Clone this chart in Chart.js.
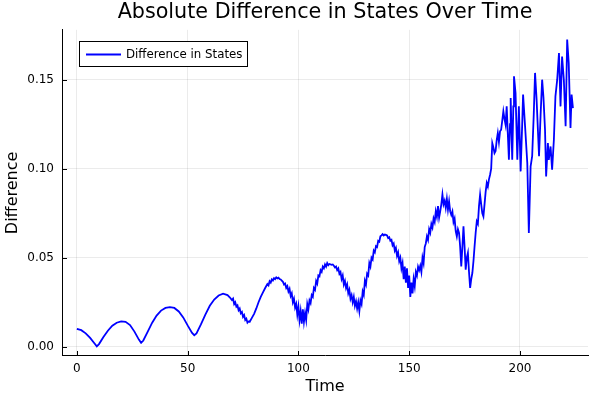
<!DOCTYPE html>
<html>
<head>
<meta charset="utf-8">
<script src="https://cdn.jsdelivr.net/npm/chart.js@4.4.1/dist/chart.umd.min.js"></script>
<style>
  html, body { margin: 0; padding: 0; background: #fff; }
  #wrap { width: 600px; height: 400px; }
</style>
</head>
<body>
<div id="wrap"><canvas id="myChart" width="600" height="400"></canvas></div>
<script>
// values
const time = [
  0, 2, 4, 6, 8, 9, 10, 12, 14, 16, 18, 20, 22, 24, 26, 28, 29, 30, 32, 34, 36, 38, 40, 42, 44, 46, 48, 50, 52, 53, 54, 56, 58, 60, 62, 64, 66,
  68, 69, 70, 70.5, 71, 71.5, 72, 72.5, 73, 73.5, 74, 74.5, 75, 75.5, 76, 76.5, 77, 77.5, 78, 79, 80, 81, 82, 83, 84, 85, 86, 86.5, 87, 87.5,
  88, 88.5, 89, 89.5, 90, 90.5, 91, 91.5, 92, 93, 93.5, 94, 94.5, 95, 95.5, 96, 96.5, 97, 97.5, 98, 98.5, 99, 99.5, 100, 100.5, 101, 101.5,
  102, 102.5, 103, 103.5, 104, 104.5, 105, 105.5, 106, 106.5, 107, 107.5, 108, 108.5, 109, 109.5, 110, 110.5, 111, 111.5, 112, 112.5, 113,
  113.5, 114, 115, 115.5, 116, 116.5, 117, 117.5, 118, 118.5, 119, 119.5, 120, 120.5, 121, 121.5, 122, 122.5, 123, 123.5, 124, 124.5, 125,
  125.5, 126, 126.5, 127, 127.5, 128, 128.5, 129, 129.5, 130, 130.5, 131, 131.5, 132, 132.5, 133, 133.5, 134, 134.5, 135, 135.5, 136, 136.5,
  137, 137.5, 138, 138.5, 139, 139.5, 140, 140.5, 141, 141.5, 142, 142.5, 143, 143.5, 144, 144.5, 145, 145.5, 146, 146.5, 147, 147.5, 148,
  148.5, 149, 149.5, 150, 150.5, 151, 151.5, 152, 152.5, 153, 153.5, 154, 154.5, 155, 155.5, 156, 156.5, 157, 157.5, 158, 158.5, 159, 159.5,
  160, 160.5, 161, 161.5, 162, 162.5, 163, 163.5, 164, 164.5, 165, 165.5, 166, 166.5, 167, 167.5, 168, 168.5, 169, 169.5, 170, 170.5, 171,
  171.5, 172, 172.5, 173, 173.5, 174, 174.5, 175, 175.5, 176, 176.5, 177, 177.5, 178, 178.5, 179, 179.5, 180, 180.5, 181, 181.5, 182, 182.5,
  183, 183.5, 184, 184.5, 185, 185.5, 186, 186.5, 187, 187.5, 188, 188.5, 189, 189.5, 190, 190.5, 191, 191.5, 192, 192.5, 193, 193.5, 194,
  194.5, 195, 195.5, 195.8, 196.2, 196.5, 197, 197.3, 198, 198.8, 199.5, 200.3, 201, 201.4, 202.3, 203.3, 204, 204.8, 205.5, 206.2, 206.8,
  207.5, 208.6, 209.3, 210, 210.6, 211.3, 211.8, 212.6, 213, 213.8, 214.5, 215.3, 216, 216.8, 217.6, 218.3, 219, 219.8, 220.6, 221.3, 222,
  222.8, 223.3, 223.9
];
const difference = [
  0.0100, 0.0093, 0.0075, 0.0050, 0.0018, 0.0002, 0.0015, 0.0055, 0.0090, 0.0118, 0.0135, 0.0142, 0.0140, 0.0122, 0.0085, 0.0040, 0.0022,
  0.0035, 0.0085, 0.0135, 0.0175, 0.0203, 0.0218, 0.0222, 0.0218, 0.0198, 0.0165, 0.0120, 0.0078, 0.0065, 0.0075, 0.0125, 0.0180, 0.0230,
  0.0265, 0.0288, 0.0298,
  0.0290, 0.0278, 0.0262, 0.0270, 0.0240, 0.0250, 0.0225, 0.0232, 0.0205, 0.0215, 0.0188, 0.0195, 0.0168, 0.0178, 0.0150, 0.0158, 0.0135,
  0.0142, 0.0140, 0.0162, 0.0185, 0.0215, 0.0250, 0.0280, 0.0305, 0.0330, 0.0352, 0.0345, 0.0368, 0.0360,
  0.0378, 0.0372, 0.0385, 0.0380, 0.0390, 0.0384, 0.0388, 0.0380, 0.0378, 0.0365, 0.0350, 0.0355, 0.0330, 0.0340, 0.0310, 0.0325, 0.0285,
  0.0300, 0.0250, 0.0270, 0.0220, 0.0240, 0.0180, 0.0225, 0.0150, 0.0200, 0.0130,
  0.0210, 0.0140, 0.0190, 0.0150, 0.0240, 0.0210, 0.0260, 0.0245, 0.0290, 0.0280, 0.0330, 0.0320, 0.0370, 0.0355, 0.0400, 0.0395, 0.0430,
  0.0420, 0.0450, 0.0440, 0.0462, 0.0450, 0.0470,
  0.0458, 0.0465, 0.0460, 0.0462, 0.0455, 0.0445, 0.0450, 0.0430, 0.0440, 0.0410, 0.0420, 0.0380, 0.0400, 0.0350, 0.0370, 0.0330, 0.0350,
  0.0300, 0.0320, 0.0270, 0.0290, 0.0250, 0.0280,
  0.0230, 0.0255, 0.0215, 0.0250, 0.0200, 0.0260, 0.0240, 0.0310, 0.0290, 0.0370, 0.0350, 0.0410, 0.0400, 0.0470, 0.0450, 0.0500, 0.0490,
  0.0540, 0.0530, 0.0565, 0.0560, 0.0595, 0.0590,
  0.0620, 0.0625, 0.0632, 0.0625, 0.0630, 0.0628, 0.0625, 0.0610, 0.0615, 0.0595, 0.0600, 0.0570, 0.0580, 0.0540, 0.0555, 0.0510, 0.0530,
  0.0480, 0.0500, 0.0440, 0.0470, 0.0380, 0.0450,
  0.0360, 0.0440, 0.0330, 0.0400, 0.0280, 0.0360, 0.0300, 0.0380, 0.0340, 0.0420, 0.0400, 0.0450, 0.0430, 0.0455, 0.0420, 0.0500, 0.0470,
  0.0560, 0.0580, 0.0620, 0.0600, 0.0660, 0.0640,
  0.0690, 0.0670, 0.0720, 0.0700, 0.0760, 0.0730, 0.0790, 0.0725, 0.0760, 0.0800, 0.0855, 0.0800, 0.0820, 0.0780, 0.0830, 0.0770, 0.0816,
  0.0760, 0.0740, 0.0760, 0.0700, 0.0720, 0.0650,
  0.0620, 0.0660, 0.0640, 0.0560, 0.0451, 0.0560, 0.0676, 0.0560, 0.0433, 0.0500, 0.0527, 0.0420, 0.0330, 0.0380, 0.0414, 0.0480, 0.0563,
  0.0640, 0.0704, 0.0690, 0.0790, 0.0854, 0.0800,
  0.0750, 0.0732, 0.0800, 0.0870, 0.0920, 0.0900, 0.0940, 0.0966, 0.1000, 0.1144, 0.1120, 0.1088, 0.1100, 0.1160, 0.1200, 0.1150, 0.1210,
  0.1219, 0.1270, 0.1322, 0.1280, 0.1247, 0.1350,
  0.1200, 0.1050, 0.1250, 0.1397, 0.1200, 0.1050, 0.1350, 0.1519, 0.1425, 0.1050, 0.1350, 0.0985, 0.1250, 0.1416, 0.1238, 0.1032, 0.0639,
  0.1013, 0.1070, 0.1300, 0.1538,
  0.1388, 0.1070, 0.1300, 0.1500, 0.1400, 0.1219, 0.0957, 0.1144, 0.1050, 0.1125, 0.0994, 0.1163, 0.1406, 0.1500, 0.1650, 0.1350, 0.1630,
  0.1500, 0.1238, 0.1725, 0.1594,
  0.1229, 0.1416, 0.1340
];
const xTicks = [0, 50, 100, 150, 200];
const yTicks = [0, 0.05, 0.10, 0.15];
const seriesName = 'Difference in States';

const points = time.map((t, i) => ({ x: t, y: difference[i] }));
const font = "'DejaVu Sans', sans-serif";

// tick marks drawn inward, plus the boxed legend in the upper left
const extras = {
  id: 'extras',
  afterDraw(chart) {
    const ctx = chart.ctx, a = chart.chartArea;
    const xs = chart.scales.x, ys = chart.scales.y;
    ctx.save();
    ctx.strokeStyle = '#000';
    ctx.lineWidth = 1;
    ctx.beginPath();
    xTicks.forEach(v => {
      const px = Math.round(xs.getPixelForValue(v)) + 0.5;
      ctx.moveTo(px, a.bottom); ctx.lineTo(px, a.bottom - 5);
    });
    yTicks.forEach(v => {
      const py = Math.round(ys.getPixelForValue(v)) + 0.5;
      ctx.moveTo(a.left, py); ctx.lineTo(a.left + 5, py);
    });
    ctx.stroke();

    // legend
    ctx.fillStyle = '#fff';
    ctx.fillRect(79.5, 41.5, 168, 25);
    ctx.strokeRect(79.5, 41.5, 168, 25);
    ctx.strokeStyle = '#0000ff';
    ctx.lineWidth = 1.8;
    ctx.beginPath();
    ctx.moveTo(86, 54.5); ctx.lineTo(121, 54.5);
    ctx.stroke();
    ctx.fillStyle = '#000';
    ctx.font = '11.8px ' + font;
    ctx.textBaseline = 'middle';
    ctx.fillText(seriesName, 126, 55);
    ctx.restore();
  }
};

new Chart(document.getElementById('myChart'), {
  type: 'line',
  data: {
    datasets: [{
      label: seriesName,
      data: points,
      borderColor: '#0000ff',
      borderWidth: 1.8,
      pointRadius: 0,
      tension: 0,
      fill: false
    }]
  },
  options: {
    responsive: false,
    animation: false,
    layout: { padding: { left: 0, right: 12, top: 0, bottom: 0 } },
    plugins: {
      legend: { display: false },
      tooltip: { enabled: false },
      title: {
        display: true,
        fullSize: false,
        text: 'Absolute Difference in States Over Time',
        color: '#000',
        font: { family: font, size: 20.7, weight: 'normal' },
        padding: { top: 0, bottom: 5 }
      }
    },
    scales: {
      x: {
        type: 'linear',
        min: -6.7,
        max: 230.7,
        afterFit: s => { s.height = 44; },
        afterBuildTicks: s => { s.ticks = xTicks.map(v => ({ value: v })); },
        grid: { color: 'rgba(0,0,0,0.08)', drawTicks: false },
        border: { display: true, color: '#000', width: 1 },
        ticks: {
          color: '#000',
          padding: 6,
          maxRotation: 0,
          font: { family: font, size: 12 },
          callback: v => String(v)
        },
        title: {
          display: true,
          text: 'Time',
          color: '#000',
          padding: { top: 0, bottom: 4 },
          font: { family: font, size: 16 }
        }
      },
      y: {
        type: 'linear',
        min: -0.0052,
        max: 0.178,
        afterFit: s => { s.width = 62; },
        afterBuildTicks: s => { s.ticks = yTicks.map(v => ({ value: v })); },
        grid: { color: 'rgba(0,0,0,0.08)', drawTicks: false },
        border: { display: true, color: '#000', width: 1 },
        ticks: {
          color: '#000',
          padding: 8,
          font: { family: font, size: 12 },
          callback: v => v.toFixed(2)
        },
        title: {
          display: true,
          text: 'Difference',
          color: '#000',
          padding: { top: 3, bottom: 0 },
          font: { family: font, size: 16 }
        }
      }
    }
  },
  plugins: [extras]
});
</script>
</body>
</html>
